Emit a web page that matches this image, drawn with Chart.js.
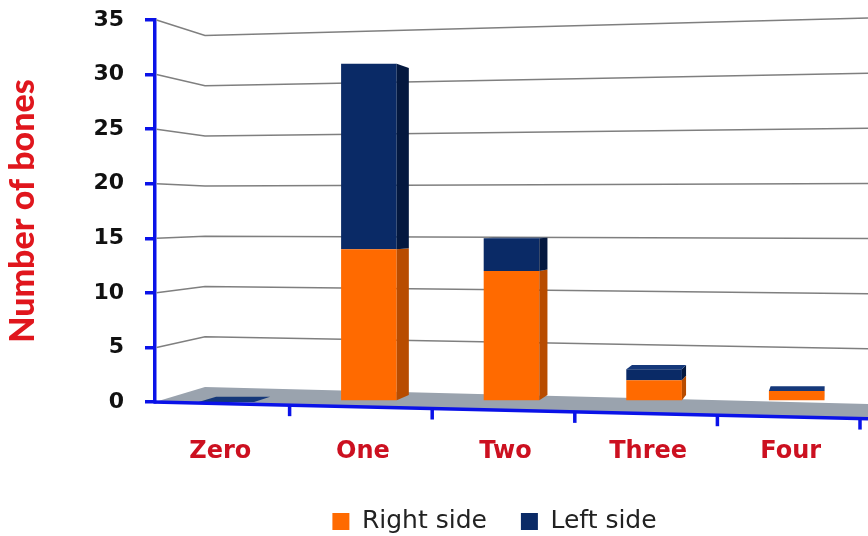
<!DOCTYPE html>
<html>
<head>
<meta charset="utf-8">
<script src="https://cdn.jsdelivr.net/npm/chart.js@4.4.1/dist/chart.umd.min.js"></script>
<style>
  html, body { margin: 0; padding: 0; background: #ffffff; }
  canvas { display: block; }
</style>
</head>
<body>
<canvas id="chart" width="868" height="536"></canvas>
<script>
// Number of bones per category, split by side
const categories = ['Zero', 'One', 'Two', 'Three', 'Four'];
const rightSide = [0, 14, 12, 2, 1];
const leftSide = [0, 17, 3, 1, 0];
const yTickValues = [0, 5, 10, 15, 20, 25, 30, 35];

const AXIS_BLUE = '#0a12e8';
const ORANGE = '#ff6a00';
const NAVY = '#0a2a66';
const ORANGE_SIDE = '#b84c00';
const NAVY_SIDE = '#04183f';
const NAVY_TOP = '#15387a';

// Simple perspective helpers for the pseudo-3D look
const depth = {
  vx: 830, vy: 215, t: 0.028,          // bar depth toward the vanishing point
  wallOffset: 50,                      // back wall sits this far behind the y axis
  sLeft: 0.92, sRight: 1.01,           // back wall scaling, left and right
  frontSlope: 0.0235                   // slope of the front floor edge
};

const depth3d = {
  id: 'depth3d',
  afterLayout(chart) {
    // nudge the legend row a little left of the plot centre
    const lg = chart.legend;
    if (lg) { lg.left -= 17; lg.right -= 17; }
  },
  beforeDatasetsDraw(chart) {
    const { ctx, chartArea, scales } = chart;
    const { left, top, bottom } = chartArea;
    const W = chart.width;
    const y = scales.y;
    const yc = (top + bottom) / 2 + 2.5;
    const backX = left + depth.wallOffset;
    const s = xx => depth.sLeft + (depth.sRight - depth.sLeft) * (xx - backX) / (W - backX);
    const yb = (v, xx) => yc + (y.getPixelForValue(v) - yc) * s(xx);
    const y0 = y.getPixelForValue(0);
    const frontY = xx => y0 + (xx - left) * depth.frontSlope;

    ctx.save();
    // floor
    ctx.beginPath();
    ctx.moveTo(left, y0);
    ctx.lineTo(backX, yb(0, backX));
    ctx.lineTo(W, yb(0, W));
    ctx.lineTo(W, frontY(W));
    ctx.closePath();
    ctx.fillStyle = '#9aa3ae';
    ctx.fill();

    // gridlines bending onto the back wall
    ctx.strokeStyle = '#7f7f7f';
    ctx.lineWidth = 1.5;
    yTickValues.filter(v => v > 0).forEach(v => {
      ctx.beginPath();
      ctx.moveTo(left + 1.5, y.getPixelForValue(v));
      ctx.lineTo(backX, yb(v, backX));
      ctx.lineTo(W, yb(v, W));
      ctx.stroke();
    });
    ctx.restore();
  },
  afterDatasetsDraw(chart) {
    const { ctx, chartArea, scales } = chart;
    const { left } = chartArea;
    const W = chart.width;
    const x = scales.x, y = scales.y;
    const y0 = y.getPixelForValue(0);
    const frontY = xx => y0 + (xx - left) * depth.frontSlope;
    const back = (px, py) => [px + (depth.vx - px) * depth.t, py + (depth.vy - py) * depth.t];

    ctx.save();
    const sideColors = [ORANGE_SIDE, NAVY_SIDE];
    const metas = [chart.getDatasetMeta(0), chart.getDatasetMeta(1)];
    categories.forEach((c, i) => {
      metas.forEach((meta, d) => {
        const el = meta.data[i];
        const p = el.getProps(['x', 'y', 'base', 'width'], true);
        const xr = p.x + p.width / 2;
        const topY = Math.min(p.y, p.base), botY = Math.max(p.y, p.base);
        if (botY - topY > 0.5 && depth.vx - xr > 0) {
          const a = back(xr, topY), b = back(xr, botY);
          ctx.beginPath();
          ctx.moveTo(xr, topY);
          ctx.lineTo(a[0], a[1]);
          ctx.lineTo(b[0], b[1]);
          ctx.lineTo(xr, botY);
          ctx.closePath();
          ctx.fillStyle = sideColors[d];
          ctx.fill();
        }
      });
      // top face of the stack
      const el = metas[1].data[i];
      const p = el.getProps(['x', 'y', 'base', 'width'], true);
      const xl = p.x - p.width / 2, xr = p.x + p.width / 2;
      const ty = p.y;
      if (ty > depth.vy) {
        const a = back(xl, ty), b = back(xr, ty);
        ctx.beginPath();
        ctx.moveTo(xl, ty);
        ctx.lineTo(xr, ty);
        ctx.lineTo(b[0], b[1]);
        ctx.lineTo(a[0], a[1]);
        ctx.closePath();
        ctx.fillStyle = NAVY_TOP;
        ctx.fill();
      }
    });

    // front floor edge acting as the category axis
    ctx.strokeStyle = AXIS_BLUE;
    ctx.lineWidth = 3.5;
    ctx.beginPath();
    ctx.moveTo(left - 1.5, y0);
    ctx.lineTo(W, frontY(W));
    ctx.stroke();
    for (let i = 0; i < categories.length; i++) {
      const next = i + 1 < categories.length
        ? x.getPixelForValue(i + 1)
        : 2 * x.getPixelForValue(i) - x.getPixelForValue(i - 1);
      const bx = (x.getPixelForValue(i) + next) / 2 - 8;
      const by = frontY(bx);
      ctx.beginPath();
      ctx.moveTo(bx, by);
      ctx.lineTo(bx, by + 11);
      ctx.stroke();
    }
    ctx.restore();
  }
};

new Chart(document.getElementById('chart'), {
  type: 'bar',
  data: {
    labels: categories,
    datasets: [
      { label: 'Right side', data: rightSide, backgroundColor: ORANGE, borderWidth: 0 },
      { label: 'Left side', data: leftSide, backgroundColor: NAVY, borderWidth: 0 }
    ]
  },
  options: {
    responsive: false,
    animation: false,
    devicePixelRatio: 1,
    layout: { padding: { top: 20, right: 0, left: 0, bottom: -8 } },
    datasets: { bar: { barPercentage: 0.39, categoryPercentage: 1 } },
    scales: {
      x: {
        stacked: true,
        grid: { display: false },
        border: { display: false },
        ticks: {
          color: '#cc1020',
          font: { family: 'DejaVu Sans', weight: 'bold', size: 24 },
          padding: 27,
          labelOffset: -6,
          maxRotation: 0
        },
        afterFit(scale) { scale.height = 73; }
      },
      y: {
        stacked: true,
        min: 0,
        max: 35,
        afterBuildTicks(scale) { scale.ticks = yTickValues.map(v => ({ value: v })); },
        afterFit(scale) {
          scale.width = 155;
          scale.paddingTop = 0;
          scale.paddingBottom = 0;
        },
        grid: { drawOnChartArea: false, drawTicks: true, tickLength: 10, color: AXIS_BLUE, lineWidth: 3.5 },
        border: { display: true, color: AXIS_BLUE, width: 3.5 },
        ticks: {
          color: '#111111',
          font: { family: 'DejaVu Sans', weight: 'bold', size: 22 },
          padding: 21
        },
        title: {
          display: true,
          text: 'Number of bones',
          color: '#e0161d',
          font: { family: 'Lato', weight: '900', size: 34 },
          padding: { top: 3, bottom: 0 }
        }
      }
    },
    plugins: {
      legend: {
        position: 'bottom',
        fullSize: false,
        labels: {
          boxWidth: 17,
          boxHeight: 17,
          padding: 34,
          color: '#222222',
          font: { family: 'DejaVu Sans', size: 25 }
        }
      },
      tooltip: { enabled: false }
    }
  },
  plugins: [depth3d]
});
</script>
</body>
</html>
